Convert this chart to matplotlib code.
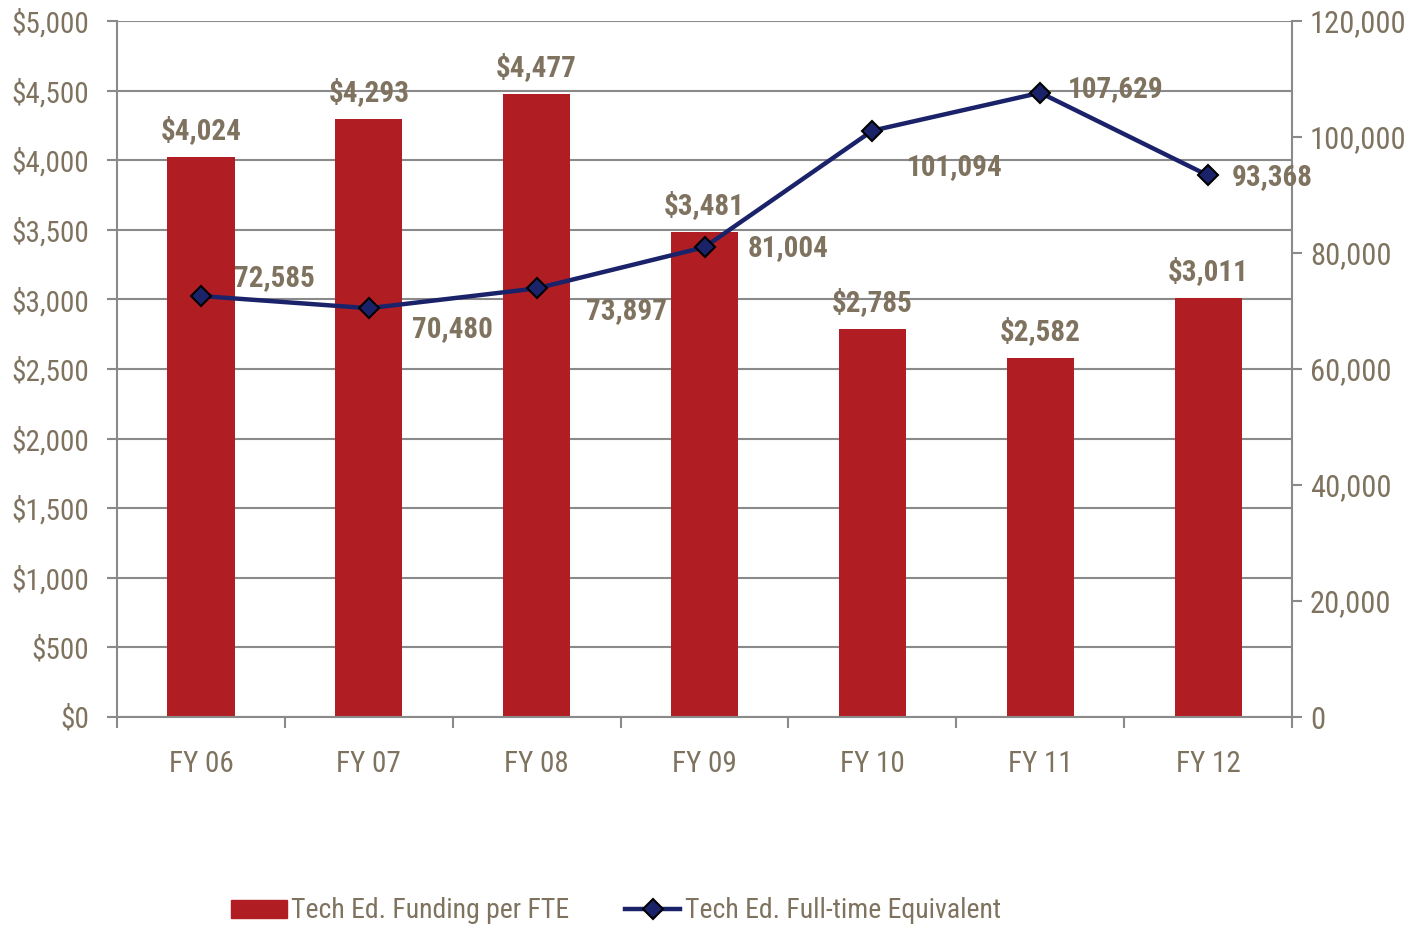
import matplotlib
matplotlib.use("Agg")
import matplotlib.pyplot as plt
from matplotlib.lines import Line2D
from matplotlib.patches import Patch

plt.rcParams['font.family'] = ['Roboto Condensed', 'Barlow Condensed', 'DejaVu Sans']

categories = ["FY 06", "FY 07", "FY 08", "FY 09", "FY 10", "FY 11", "FY 12"]
funding = [4024, 4293, 4477, 3481, 2785, 2582, 3011]
fte = [72585, 70480, 73897, 81004, 101094, 107629, 93368]

TXT = "#7f7360"
BAR = "#B01E24"
LINE = "#1a2369"
GRID = "#8a8a8a"
FS = 21

fig = plt.figure(figsize=(14.2, 9.27), dpi=100)
ax = fig.add_axes([117/1420, 1-717/927, (1292-117)/1420, (717-21)/927])
ax2 = ax.twinx()

x = list(range(len(categories)))
ax.bar(x, funding, width=0.4, color=BAR, zorder=2)
ax.set_xlim(-0.5, len(categories)-0.5)
ax.set_ylim(0, 5000)
ax.set_yticks(range(0, 5001, 500))
ax.set_yticklabels([f"${v:,}" for v in range(0, 5001, 500)])
ax.grid(axis='y', color=GRID, lw=1.5, zorder=0)
ax.set_axisbelow(True)
ax.set_xticks(x)
ax.set_xticklabels(categories)
ax.set_xticks([i - 0.5 for i in range(len(categories)+1)], minor=True)
ax.tick_params(axis='x', which='major', length=0, pad=23.5, labelsize=FS, labelcolor=TXT)
ax.tick_params(axis='x', which='minor', length=8, width=1.5, color=GRID, direction='out')
ax.tick_params(axis='y', length=7, width=1.5, color=GRID, labelsize=FS, labelcolor=TXT, pad=13)
for s in ['left', 'bottom', 'right']:
    ax.spines[s].set_color(GRID)
    ax.spines[s].set_linewidth(1.5)
ax.spines['top'].set_visible(False)

for xi, v in zip(x, funding):
    ax.annotate(f"${v:,}", (xi, v), xytext=(0, 12), textcoords='offset pixels',
                ha='center', va='bottom', fontsize=FS, fontweight='bold', color=TXT)

ax2.plot(x, fte, color=LINE, lw=3.2, marker='D', markersize=10,
         markerfacecolor=LINE, markeredgecolor='black', markeredgewidth=1.5, zorder=3)
ax2.set_ylim(0, 120000)
ax2.set_yticks(range(0, 120001, 20000))
ax2.set_yticklabels([f"{v:,}" for v in range(0, 120001, 20000)])
ax2.tick_params(axis='y', length=7, width=1.5, color=GRID, labelsize=22, labelcolor=TXT, pad=6)
for s in ['left', 'bottom', 'right', 'top']:
    ax2.spines[s].set_visible(False)

offsets = [(74, 18), (84, -21), (90, -23), (84, -1), (82, -36), (75, 4), (64, -2)]
for xi, v, off in zip(x, fte, offsets):
    ax2.annotate(f"{v:,}", (xi, v), xytext=off, textcoords='offset pixels',
                 ha='center', va='center', fontsize=FS, fontweight='bold', color=TXT)

handles = [Patch(facecolor=BAR, edgecolor=BAR),
           Line2D([0], [0], color=LINE, lw=3.2, marker='D', markersize=10,
                  markerfacecolor=LINE, markeredgecolor='black', markeredgewidth=1.5)]
fig.legend(handles, ["Tech Ed. Funding per FTE", "Tech Ed. Full-time Equivalent"],
           loc='center', bbox_to_anchor=(616/1420, 1-911/927), ncol=2, frameon=False,
           fontsize=20, labelcolor=TXT, handlelength=2.0, handleheight=0.6,
           handletextpad=0.15, columnspacing=2.0)

fig.savefig("out.png", dpi=100)
